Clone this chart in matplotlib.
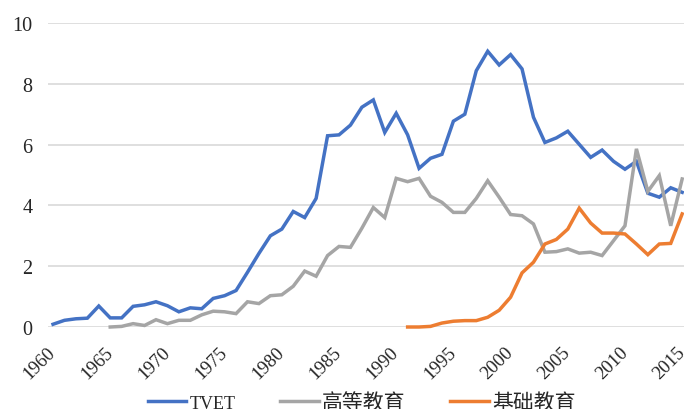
import numpy as np
import matplotlib
matplotlib.use('Agg')
import matplotlib.pyplot as plt

plt.rcParams['font.family'] = ['Liberation Serif', 'Noto Sans CJK SC']

# Data (1960-2015)
years = np.arange(1960, 2016)

tvet = [0.09, 0.22, 0.27, 0.29, 0.69, 0.30, 0.30, 0.68, 0.73, 0.83,
        0.70, 0.50, 0.63, 0.60, 0.94, 1.03, 1.20, 1.80, 2.42, 3.00,
        3.22, 3.80, 3.60, 4.23, 6.29, 6.32, 6.64, 7.23, 7.47, 6.40,
        7.03, 6.32, 5.22, 5.55, 5.68, 6.77, 7.00, 8.43, 9.07, 8.62,
        8.96, 8.49, 6.90, 6.07, 6.22, 6.44, 6.01, 5.58, 5.82, 5.45,
        5.19, 5.45, 4.40, 4.27, 4.58, 4.43]

higher_years = np.arange(1965, 2016)
higher = [0.00, 0.02, 0.11, 0.05, 0.24, 0.11, 0.22, 0.22, 0.40, 0.52,
          0.50, 0.44, 0.83, 0.77, 1.03, 1.06, 1.34, 1.84, 1.67, 2.35,
          2.65, 2.62, 3.25, 3.93, 3.60, 4.89, 4.78, 4.89, 4.30, 4.10,
          3.77, 3.77, 4.23, 4.81, 4.27, 3.70, 3.66, 3.39, 2.46, 2.48,
          2.57, 2.43, 2.46, 2.35, 2.84, 3.33, 5.86, 4.46, 4.98, 3.33,
          4.87]

basic_years = np.arange(1991, 2016)
basic = [0.00, 0.00, 0.02, 0.13, 0.19, 0.21, 0.21, 0.32, 0.55, 0.98,
         1.78, 2.13, 2.73, 2.88, 3.22, 3.91, 3.42, 3.09, 3.09, 3.06,
         2.73, 2.38, 2.73, 2.75, 3.72]

series = [('TVET', years, tvet, '#4472C4'),
          ('高等教育', higher_years, higher, '#A5A5A5'),
          ('基础教育', basic_years, basic, '#ED7D31')]

fig = plt.figure(figsize=(6.84, 4.10), dpi=100)
ax = fig.add_axes([48 / 684, 82 / 410, 636 / 684, 304 / 410])

for name, xs, ys, col in series:
    ax.plot(xs, ys, color=col, lw=2.5, label=name, solid_joinstyle='miter',
            clip_on=False, zorder=3)

ax.set_xlim(1959.56, 2015.16)
ax.set_ylim(0, 10)
ax.set_yticks(np.arange(0, 11, 2))
ax.set_xticks(np.arange(1960, 2016, 5))
ax.set_xticklabels([str(y) for y in range(1960, 2016, 5)], rotation=45,
                   ha='right', va='center', rotation_mode='anchor')
ax.tick_params(axis='both', length=0, labelsize=14.5, colors='#262626')
ax.tick_params(axis='x', labelsize=13.5, pad=16)
ax.tick_params(axis='y', pad=11)
ax.grid(axis='y', color='#D9D9D9', lw=1.2)
ax.set_axisbelow(True)
for s in ax.spines.values():
    s.set_visible(False)

leg = fig.legend(loc='center', bbox_to_anchor=(0.5285, 6 / 410), ncol=3,
                 frameon=False, fontsize=14, handlelength=2.0,
                 columnspacing=2.3, handletextpad=0.15, labelcolor='#262626')
texts = leg.get_texts()
texts[0].set_fontsize(13)
texts[1].set_fontsize(15)
texts[2].set_fontsize(15)

fig.savefig('out.png', dpi=100)
